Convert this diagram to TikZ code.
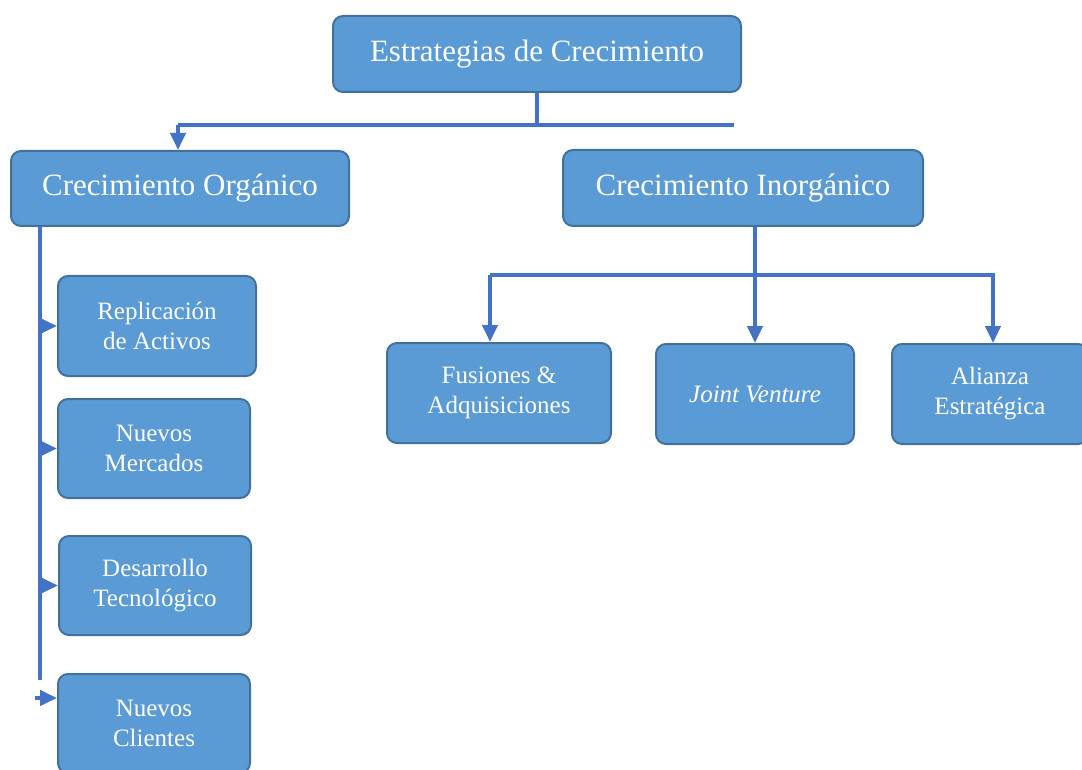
\documentclass[tikz,border=0pt]{standalone}
\usepackage{fontspec}
\setmainfont{Liberation Serif}
\usetikzlibrary{arrows.meta}
\definecolor{boxfill}{HTML}{5B9BD5}
\definecolor{boxline}{HTML}{41719C}
\definecolor{linkblue}{HTML}{4472C4}
\tikzset{
	box/.style={draw=boxline,fill=boxfill,line width=2pt,rounded corners=10pt,text=white,align=center,inner sep=0pt},
	bigbox/.style={box,font=\fontsize{31}{36}\selectfont},
	smallbox/.style={box,font=\fontsize{25}{30}\selectfont},
	link/.style={draw=linkblue,line width=4pt},
	arr/.style={link,-{Triangle[length=17pt,width=15pt]}}
}

\begin{document}
\begin{tikzpicture}[x=1pt,y=-1pt]
		\useasboundingbox (0,0) rectangle (1082,770);
		\node[bigbox,minimum width=408pt,minimum height=76pt] (top) at (537,54) {Estrategias de Crecimiento};
		\node[bigbox,minimum width=338pt,minimum height=75pt] (org) at (180,188.5) {Crecimiento Orgánico};
		\node[bigbox,minimum width=360pt,minimum height=76pt] (inorg) at (743,188) {Crecimiento Inorgánico};
		\node[smallbox,minimum width=198pt,minimum height=100pt] (repl) at (157,326) {Replicación\\de Activos};
		\node[smallbox,minimum width=192pt,minimum height=99pt] (merc) at (154,448.5) {Nuevos\\Mercados};
		\node[smallbox,minimum width=192pt,minimum height=99pt] (tec) at (155,585.5) {Desarrollo\\Tecnológico};
		\node[smallbox,minimum width=192pt,minimum height=99pt] (cli) at (154,723.5) {Nuevos\\Clientes};
		\node[smallbox,minimum width=224pt,minimum height=100pt] (fus) at (499,393) {Fusiones \&\\Adquisiciones};
		\node[smallbox,minimum width=198pt,minimum height=100pt] (jv) at (755,394) {\textit{Joint Venture}};
		\node[smallbox,minimum width=196pt,minimum height=100pt] (ali) at (990,394) {Alianza\\Estratégica};
		\coordinate (hl) at (178,125);
		\coordinate (hr) at (734,125);
		\draw[link] (top.south) -- (top.south |- hl);
		\draw[link] (hl) -- (hr);
		\draw[arr] (hl) -- (org.north -| hl);
		\coordinate (vt) at (40,226);
		\coordinate (vb) at (40,680);
		\draw[link] (vt) -- (vb);
		\draw[arr] (repl.west -| vt) -- (repl.west);
		\draw[arr] (merc.west -| vt) -- (merc.west);
		\draw[arr] (tec.west -| vt) -- (tec.west);
		\coordinate (cb) at (35,698);
		\draw[arr] (cb) -- (cb -| cli.west);
		\coordinate (bl) at (490,275);
		\coordinate (br) at (993,275);
		\draw[arr] (jv.north |- inorg.south) -- (jv.north);
		\draw[arr] (bl) -- (br) -- (br |- ali.north);
		\draw[arr] (bl) -- (bl |- fus.north);
	\end{tikzpicture}
\end{document}
